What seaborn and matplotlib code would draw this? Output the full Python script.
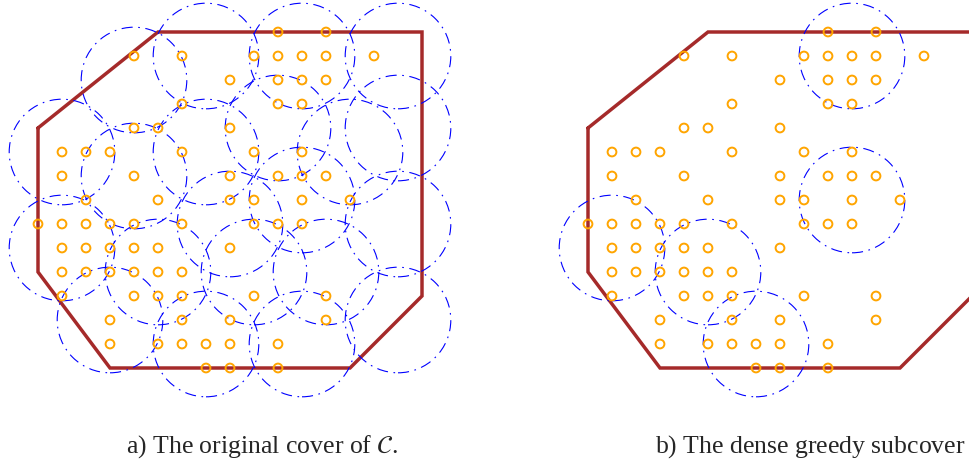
import numpy as np
import pandas as pd
import matplotlib.pyplot as plt
from matplotlib.patches import Circle
import seaborn as sns

sns.set_theme(style="white")
plt.rcParams["mathtext.fontset"] = "stix"

# sample points on the grid: columns present in each row (row 0 = top)
cols_by_row = [
    [10, 12],
    [4, 6, 9, 10, 11, 12, 14],
    [8, 10, 11, 12],
    [6, 10, 11],
    [4, 5, 8],
    [1, 2, 3, 6, 9, 11],
    [1, 4, 8, 10, 11, 12],
    [2, 5, 8, 9, 11, 13],
    [0, 1, 2, 3, 4, 6, 9, 10, 11],
    [1, 2, 3, 4, 5, 8],
    [1, 2, 3, 4, 5, 6],
    [1, 4, 5, 6, 9, 12],
    [3, 6, 8, 12],
    [3, 5, 6, 7, 8, 10],
    [7, 8, 10],
]
n_rows = 14

# the region C
hull_x = [0, 5, 16, 16, 13, 3, 0, 0]
hull_y = [10, 14, 14, 3, 0, 0, 4, 10]

# original cover (ball centres, column / row from top)
cover_col = [7, 11, 15, 4, 10, 15, 1, 7, 13, 4, 11, 8, 15, 1, 5, 9, 12, 3, 15, 7, 11]
cover_row = [1, 1, 1, 2, 4, 4, 5, 5, 5, 6, 7, 8, 8, 9, 10, 10, 10, 12, 12, 13, 13]

# dense greedy subcover
sub_col = [11, 11, 1, 5, 7]
sub_row = [1, 7, 9, 10, 13]

radius = 2.2

pts = pd.DataFrame(
    [(c, n_rows - r) for r, cols in enumerate(cols_by_row) for c in cols],
    columns=["x", "y"],
)

W, H = 970, 467
fig = plt.figure(figsize=(W / 100, H / 100), dpi=100)

unit = 24.0  # pixels per grid unit


def make_ax(left_px, right_px, x0_px):
    ax = fig.add_axes([left_px / W, 0, (right_px - left_px) / W, 1])
    ax.set_xlim((left_px - x0_px) / unit, (right_px - x0_px) / unit)
    ax.set_ylim(n_rows - (H - 32) / unit, n_rows + 32 / unit)
    ax.set_axis_off()
    return ax


def draw_panel(ax, ccol, crow):
    ax.plot(hull_x, hull_y, color="#a52a2a", lw=2.5,
            solid_joinstyle="miter", zorder=1)
    for c, r in zip(ccol, crow):
        ax.add_patch(Circle((c, n_rows - r), radius, fill=False,
                            edgecolor="blue", lw=0.8,
                            linestyle=(0, (10, 5, 1.5, 5)), zorder=2,
                            clip_on=False))
    sns.scatterplot(data=pts, x="x", y="y", ax=ax, marker="o", s=40,
                    facecolors="none", edgecolor="orange", linewidth=1.4,
                    zorder=3, legend=False)
    ax.set_axis_off()


ax1 = make_ax(0, 485, 38)
draw_panel(ax1, cover_col, cover_row)

ax2 = make_ax(485, 995, 588)
draw_panel(ax2, sub_col, sub_row)

fig.text(126 / W, 1 - 453 / H, r"a) The original cover of $\mathcal{C}$.",
         family="Liberation Serif", fontsize=18.5, ha="left", va="baseline")
fig.text(655 / W, 1 - 453 / H, r"b) The dense greedy subcover of $\mathcal{C}$.",
         family="Liberation Serif", fontsize=18.5, ha="left", va="baseline")

fig.savefig("out.png", dpi=100)
